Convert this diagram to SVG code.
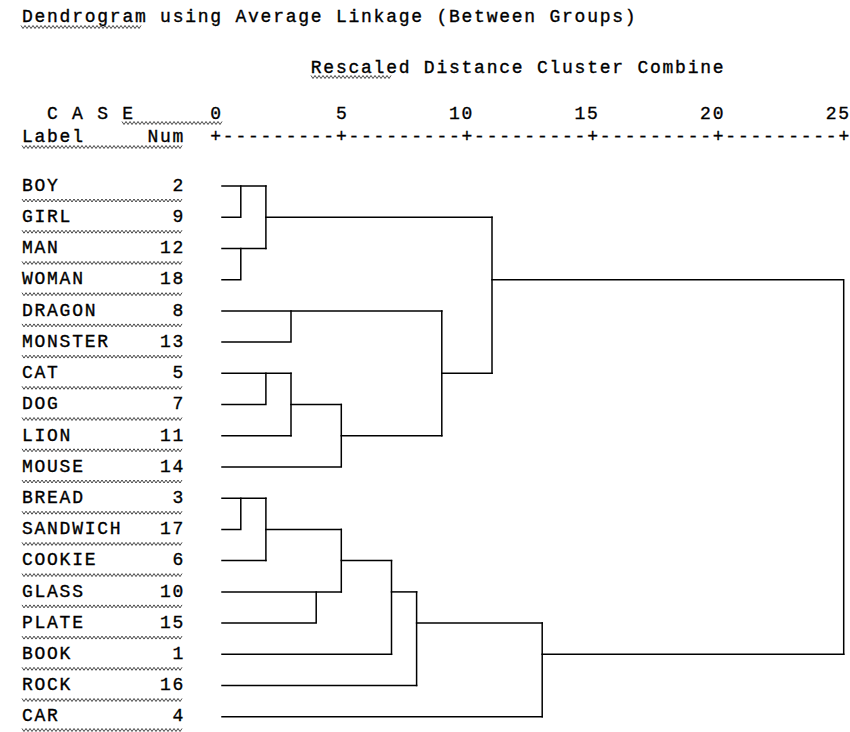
<svg xmlns="http://www.w3.org/2000/svg" xmlns:xlink="http://www.w3.org/1999/xlink" width="850" height="732" viewBox="0 0 850 732">
<style>
.t{font-family:"Courier New","Liberation Mono",monospace;font-size:18px;letter-spacing:1.76px;fill:#000;stroke:#000;stroke-width:0.35}
.ln{fill:none;stroke:#000;stroke-width:1.5;stroke-linecap:square}
.sq{fill:none;stroke:#333;stroke-width:0.9}
</style>
<defs>
<path id="z20" class="sq" d="M0,0l2,3 2,-3 2,3 2,-3 2,3 2,-3 2,3 2,-3 2,3 2,-3"/>
<g id="z40"><use href="#z20"/><use href="#z20" x="20"/></g>
<g id="z160"><use href="#z40"/><use href="#z40" x="40"/><use href="#z40" x="80"/><use href="#z40" x="120"/></g>
</defs>
<rect width="850" height="732" fill="#fff"/>

<g id="header">
<text class="t" x="21.9" y="22">Dendrogram using Average Linkage (Between Groups)</text>
<use href="#z40" x="21" y="25.5"/><use href="#z40" x="61" y="25.5"/><use href="#z40" x="101" y="25.5"/>
<text class="t" x="310.8" y="73">Rescaled Distance Cluster Combine</text>
<use href="#z40" x="311" y="75.5"/><use href="#z40" x="351" y="75.5"/>
<text class="t" x="47" y="119">C A S E</text>
<use href="#z40" x="122" y="121.5"/><use href="#z40" x="162" y="121.5"/><use href="#z20" x="202" y="121.5"/>
<text class="t" x="21.9" y="142">Label</text>
<text class="t" x="147.5" y="142">Num</text>
<use href="#z160" x="22" y="145.5"/>
</g>

<g id="axis">
<text class="t" x="210.3" y="119">0</text>
<text class="t" x="335.9" y="119">5</text>
<text class="t" x="448.9" y="119">10</text>
<text class="t" x="574.5" y="119">15</text>
<text class="t" x="700.1" y="119">20</text>
<text class="t" x="825.7" y="119">25</text>
<text class="t" x="210.3" y="142">+---------+---------+---------+---------+---------+</text>
</g>

<g id="leaf-boy"><text class="t" x="21.9" y="190.7">BOY</text><text class="t" x="172.6" y="190.7">2</text><use href="#z160" x="22" y="199"/></g>
<g id="leaf-girl"><text class="t" x="21.9" y="221.9">GIRL</text><text class="t" x="172.6" y="221.9">9</text><use href="#z160" x="22" y="230.2"/></g>
<g id="leaf-man"><text class="t" x="21.9" y="253.1">MAN</text><text class="t" x="160" y="253.1">12</text><use href="#z160" x="22" y="261.4"/></g>
<g id="leaf-woman"><text class="t" x="21.9" y="284.4">WOMAN</text><text class="t" x="160" y="284.4">18</text><use href="#z160" x="22" y="292.7"/></g>
<g id="leaf-dragon"><text class="t" x="21.9" y="315.6">DRAGON</text><text class="t" x="172.6" y="315.6">8</text><use href="#z160" x="22" y="323.9"/></g>
<g id="leaf-monster"><text class="t" x="21.9" y="346.8">MONSTER</text><text class="t" x="160" y="346.8">13</text><use href="#z160" x="22" y="355.1"/></g>
<g id="leaf-cat"><text class="t" x="21.9" y="378">CAT</text><text class="t" x="172.6" y="378">5</text><use href="#z160" x="22" y="386.3"/></g>
<g id="leaf-dog"><text class="t" x="21.9" y="409.2">DOG</text><text class="t" x="172.6" y="409.2">7</text><use href="#z160" x="22" y="417.5"/></g>
<g id="leaf-lion"><text class="t" x="21.9" y="440.5">LION</text><text class="t" x="160" y="440.5">11</text><use href="#z160" x="22" y="448.8"/></g>
<g id="leaf-mouse"><text class="t" x="21.9" y="471.7">MOUSE</text><text class="t" x="160" y="471.7">14</text><use href="#z160" x="22" y="480"/></g>
<g id="leaf-bread"><text class="t" x="21.9" y="502.9">BREAD</text><text class="t" x="172.6" y="502.9">3</text><use href="#z160" x="22" y="511.2"/></g>
<g id="leaf-sandwich"><text class="t" x="21.9" y="534.1">SANDWICH</text><text class="t" x="160" y="534.1">17</text><use href="#z160" x="22" y="542.4"/></g>
<g id="leaf-cookie"><text class="t" x="21.9" y="565.3">COOKIE</text><text class="t" x="172.6" y="565.3">6</text><use href="#z160" x="22" y="573.6"/></g>
<g id="leaf-glass"><text class="t" x="21.9" y="596.6">GLASS</text><text class="t" x="160" y="596.6">10</text><use href="#z160" x="22" y="604.9"/></g>
<g id="leaf-plate"><text class="t" x="21.9" y="627.8">PLATE</text><text class="t" x="160" y="627.8">15</text><use href="#z160" x="22" y="636.1"/></g>
<g id="leaf-book"><text class="t" x="21.9" y="659">BOOK</text><text class="t" x="172.6" y="659">1</text><use href="#z160" x="22" y="667.3"/></g>
<g id="leaf-rock"><text class="t" x="21.9" y="690.2">ROCK</text><text class="t" x="160" y="690.2">16</text><use href="#z160" x="22" y="698.5"/></g>
<g id="leaf-car"><text class="t" x="21.9" y="721.4">CAR</text><text class="t" x="172.6" y="721.4">4</text><use href="#z160" x="22" y="728.5"/></g>

<g id="connectors" class="ln">
<path d="M222,186H265.9"/>
<path d="M222,217.2H240.8V186"/>
<path d="M222,248.4H265.9"/>
<path d="M222,279.7H240.8V248.4"/>
<path d="M265.9,186V248.4"/>
<path d="M265.9,217.2H492"/>
<path d="M222,310.9H441.8"/>
<path d="M222,342.1H291V310.9"/>
<path d="M222,373.3H291"/>
<path d="M222,404.5H265.9V373.3"/>
<path d="M222,435.8H291"/>
<path d="M291,373.3V435.8"/>
<path d="M291,404.5H341.3"/>
<path d="M222,467H341.3V404.5"/>
<path d="M341.3,435.8H441.8"/>
<path d="M441.8,310.9V435.8"/>
<path d="M441.8,373.3H492"/>
<path d="M492,217.2V373.3"/>
<path d="M492,279.7H843.7V654.3"/>
<path d="M222,498.2H265.9"/>
<path d="M222,529.4H240.8V498.2"/>
<path d="M222,560.6H265.9"/>
<path d="M265.9,498.2V560.6"/>
<path d="M265.9,529.4H341.3"/>
<path d="M222,591.9H341.3"/>
<path d="M222,623.1H316.2V591.9"/>
<path d="M341.3,529.4V591.9"/>
<path d="M341.3,560.6H391.5"/>
<path d="M222,654.3H391.5"/>
<path d="M391.5,560.6V654.3"/>
<path d="M391.5,591.9H416.6"/>
<path d="M222,685.5H416.6"/>
<path d="M416.6,591.9V685.5"/>
<path d="M416.6,623.1H542.2"/>
<path d="M222,716.7H542.2"/>
<path d="M542.2,623.1V716.7"/>
<path d="M542.2,654.3H843.7"/>
</g>
</svg>
